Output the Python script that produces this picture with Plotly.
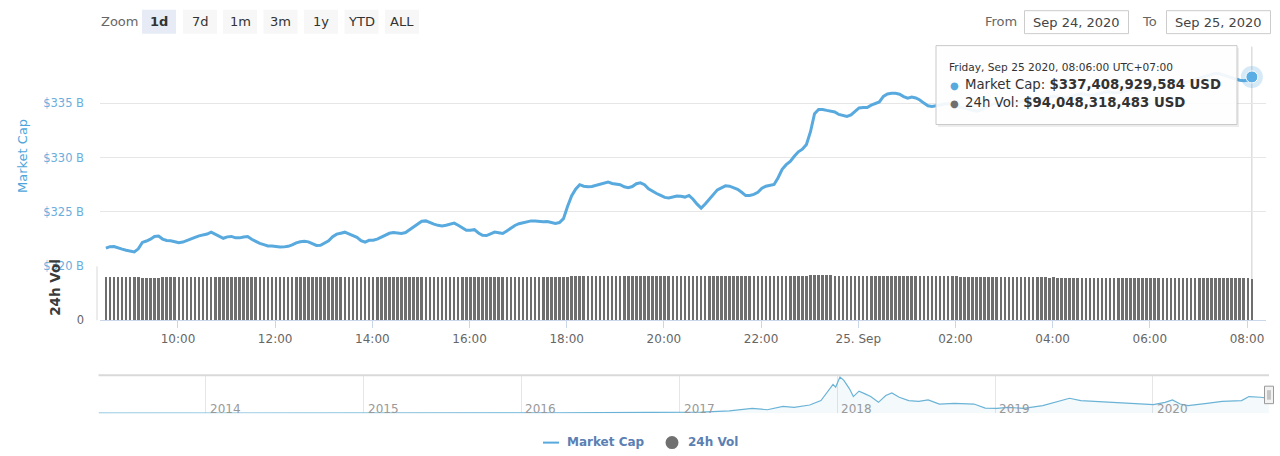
import pandas as pd
import plotly.graph_objects as go

# ---------------- data ----------------
# Market cap (billions USD), 5-minute points from Sep 24 2020 08:31 to Sep 25 2020 08:06 (UTC+7)
market_cap = [
    321.66, 321.80, 321.81, 321.67, 321.57, 321.47, 321.37, 321.32, 321.60, 322.19,
    322.32, 322.49, 322.74, 322.78, 322.50, 322.37, 322.35, 322.25, 322.16, 322.22,
    322.34, 322.49, 322.65, 322.79, 322.85, 322.96, 323.13, 322.94, 322.74, 322.57,
    322.70, 322.74, 322.61, 322.61, 322.69, 322.73, 322.48, 322.26, 322.10, 321.99,
    321.87, 321.85, 321.80, 321.76, 321.78, 321.83, 321.96, 322.15, 322.25, 322.30,
    322.24, 322.11, 321.91, 321.92, 322.10, 322.34, 322.71, 322.95, 323.04, 323.13,
    322.98, 322.80, 322.65, 322.35, 322.21, 322.38, 322.39, 322.49, 322.67, 322.85,
    323.03,
    323.10, 323.04, 323.02, 323.10, 323.35, 323.64, 323.88, 324.13, 324.17,
    323.99, 323.87, 323.76, 323.71, 323.77, 323.89, 323.97, 323.77, 323.54, 323.30,
    323.31, 323.36, 323.06, 322.85, 322.82, 322.97, 323.14, 323.08, 323.01, 323.24,
    323.52, 323.75, 323.91, 324.01, 324.11, 324.17, 324.16, 324.09, 324.09, 324.12,
    324.03, 323.93, 324.02, 324.38, 325.49, 326.47, 327.08, 327.50, 327.36, 327.30,
    327.34, 327.43, 327.56, 327.66, 327.75, 327.61, 327.55, 327.50, 327.31, 327.23,
    327.33, 327.59, 327.67, 327.50, 327.12, 326.87, 326.69, 326.51, 326.33, 326.28,
    326.36, 326.45, 326.44, 326.36, 326.51, 326.16, 325.71, 325.35, 325.72, 326.18,
    326.62, 327.02, 327.21, 327.39, 327.36, 327.24, 327.07, 326.80, 326.50, 326.51,
    326.61, 326.80, 327.17, 327.36, 327.45, 327.52, 328.14, 328.92, 329.34, 329.63,
    330.11, 330.52, 330.76, 331.20, 332.37, 334.03, 334.42, 334.42, 334.33, 334.29,
    334.19, 333.96, 333.85, 333.77, 333.91, 334.22, 334.56, 334.59, 334.60, 334.81,
    334.94, 335.11, 335.62, 335.84, 335.90, 335.90, 335.82, 335.60, 335.46, 335.55,
    335.47, 335.29, 335.00, 334.75, 334.69, 334.74,
    334.82, 334.91, 334.95, 334.86,
    334.72, 334.63, 334.54, 334.45, 334.36, 334.26, 334.36, 334.54, 334.72, 334.91,
    335.00, 335.08, 335.15, 335.10, 335.02, 335.05, 335.18, 335.30, 335.38, 335.33,
    335.25, 335.31, 335.44, 335.56, 335.62, 335.58, 335.50, 335.47, 335.55, 335.68,
    335.80, 335.86, 335.79, 335.70, 335.74, 335.85, 335.97, 336.05, 336.02, 335.94,
    335.98, 336.10, 336.22, 336.30, 336.26, 336.18, 336.24, 336.38, 336.52, 336.60,
    336.56, 336.62, 336.75, 336.88, 336.95, 336.90, 336.84, 336.92, 337.06, 337.20,
    337.32, 337.40, 337.52, 337.65, 337.74, 337.70, 337.58, 337.45, 337.30, 337.18,
    337.10, 337.05, 337.12, 337.408929584,
]

# 24h volume (billions USD), same timestamps
volume_24h = [
    98.9, 98.8, 98.9, 98.7, 98.8, 98.9, 98.8, 98.6, 98.7, 97.2,
    96.6, 96.5, 96.4, 96.6, 97.8, 98.5, 98.6, 98.5, 98.4, 98.5,
    98.6, 98.5, 98.4, 98.5, 98.6, 98.7, 98.5, 98.4, 98.5, 98.6,
    98.5, 98.4, 98.3, 98.4, 98.5, 98.6, 98.5, 98.4, 98.3, 98.4,
    98.5, 98.6, 98.5, 98.4, 98.5, 98.6, 98.7, 98.6, 98.5, 98.4,
    98.5, 98.4, 98.3, 98.4, 98.5, 98.6, 98.7, 98.8, 98.7, 98.6,
    98.5, 98.4, 98.3, 98.2, 98.3, 98.4, 98.5, 98.6, 98.5, 98.4,
    98.5, 98.6, 98.7, 98.8, 98.7, 98.6, 98.7, 98.8, 98.9, 98.8,
    98.7, 98.8, 98.9, 98.8, 98.7, 98.6, 98.7, 98.8, 98.7, 98.6,
    98.5, 98.6, 98.7, 98.6, 98.5, 98.6, 98.7, 98.8, 98.7, 98.6,
    98.7, 98.8, 98.9, 98.8, 98.7, 98.8, 98.9, 99.0, 98.9, 98.8,
    98.9, 99.0, 99.1, 99.3, 99.8, 100.3, 100.6, 100.8, 100.7, 100.6,
    100.7, 100.8, 100.9, 100.8, 100.7, 100.8, 100.9, 101.0, 100.9, 100.8,
    100.7, 100.8, 100.9, 100.8, 100.7, 100.6, 100.7, 100.8, 100.7, 100.6,
    100.5, 100.6, 100.7, 100.6, 100.5, 100.4, 100.3, 100.4, 100.5, 100.6,
    100.7, 100.8, 100.9, 100.8, 100.7, 100.6, 100.7, 100.8, 100.7, 100.6,
    100.7, 100.8, 100.9, 101.0, 101.1, 101.2, 101.3, 101.4, 101.5, 101.6,
    101.7, 101.8, 101.9, 102.0, 102.2, 102.4, 102.5, 102.4, 102.3, 102.2,
    102.1, 102.0, 101.9, 101.8, 101.7, 101.6, 101.7, 101.8, 101.7, 101.6,
    101.5, 101.4, 101.3, 101.2, 101.3, 101.4, 101.3, 101.2, 101.1, 101.0,
    100.9, 100.7, 100.8, 100.5, 100.6, 100.3, 100.4, 100.1, 100.2, 99.9,
    99.9, 99.7, 99.8, 99.5, 99.6, 99.3, 99.4, 99.1, 99.2, 98.9,
    98.9, 98.7, 98.8, 98.5, 98.6, 98.3, 98.4, 98.1, 98.2, 97.9,
    97.9, 97.7, 97.8, 97.5, 97.6, 97.3, 97.4, 97.1, 97.2, 96.9,
    96.9, 96.7, 96.8, 96.5, 96.6, 96.4, 96.5, 96.6, 96.5, 96.4,
    96.3, 96.4, 96.5, 96.4, 96.3, 96.4, 96.5, 96.6, 96.5, 96.4,
    96.3, 96.4, 96.5, 96.6, 96.5, 96.4, 96.3, 96.4, 96.5, 96.4,
    96.3, 96.2, 96.3, 96.4, 96.5, 96.4, 96.3, 96.2, 96.3, 96.4,
    96.3, 96.2, 96.1, 94.048318483,
]

series_start = "2020-09-24 08:31:00"
series_step = "5min"

last_market_cap_usd = 337408929584
last_volume_usd = 94048318483
tooltip_date = "Friday, Sep 25 2020, 08:06:00 UTC+07:00"

x_tick_values = ["2020-09-24 10:00", "2020-09-24 12:00", "2020-09-24 14:00", "2020-09-24 16:00",
                 "2020-09-24 18:00", "2020-09-24 20:00", "2020-09-24 22:00", "2020-09-25 00:00",
                 "2020-09-25 02:00", "2020-09-25 04:00", "2020-09-25 06:00", "2020-09-25 08:00"]
x_tick_labels = ["10:00", "12:00", "14:00", "16:00", "18:00", "20:00", "22:00", "25. Sep",
                 "02:00", "04:00", "06:00", "08:00"]
mc_tick_values = [320, 325, 330, 335, 340]
mc_tick_labels = ["$320 B", "$325 B", "$330 B", "$335 B", ""]

# Navigator: all-time market cap history (billions USD)
nav_dates = [
    "2013-04-28", "2013-07-01", "2013-10-01", "2013-12-01", "2014-01-01", "2014-04-01",
    "2014-07-01", "2014-10-01", "2015-01-01", "2015-04-01", "2015-07-01", "2015-10-01",
    "2016-01-01", "2016-04-01", "2016-07-01", "2016-10-01", "2017-01-01", "2017-02-20",
    "2017-04-26", "2017-06-18", "2017-07-23", "2017-08-28", "2017-09-23", "2017-10-29",
    "2017-11-24", "2017-12-16", "2017-12-22", "2017-12-28", "2018-01-07", "2018-01-16",
    "2018-01-29", "2018-02-07", "2018-02-20", "2018-03-06", "2018-03-19", "2018-04-06",
    "2018-04-23", "2018-05-07", "2018-05-24", "2018-06-15", "2018-07-08", "2018-07-30",
    "2018-08-25", "2018-09-29", "2018-11-13", "2018-12-09", "2019-01-05", "2019-01-31",
    "2019-03-08", "2019-04-21", "2019-05-17", "2019-06-22", "2019-07-18", "2019-08-14",
    "2019-09-09", "2019-10-15", "2019-11-28", "2020-01-02", "2020-01-29", "2020-02-15",
    "2020-03-04", "2020-03-22", "2020-05-05", "2020-06-09", "2020-07-24", "2020-08-10",
    "2020-09-06", "2020-09-25",
]
nav_values = [
    1.6, 1.2, 1.9, 13.0, 10.5, 6.5,
    8.5, 5.0, 4.5, 3.5, 4.4, 4.2,
    6.9, 7.3, 10.5, 10.3, 17.7, 22.0,
    54, 109, 78, 155, 132, 186,
    287, 558, 659, 597, 830, 752,
    558, 380, 504, 442, 380, 248,
    403, 465, 365, 287, 271, 303,
    209, 225, 209, 116, 109, 132,
    109, 171, 248, 341, 287, 271,
    248, 225, 209, 194, 248, 303,
    209, 171, 225, 271, 287, 380,
    365, 337,
]
nav_years = ["2014", "2015", "2016", "2017", "2018", "2019", "2020"]

zoom_buttons = ["1d", "7d", "1m", "3m", "1y", "YTD", "ALL"]
from_date_text = "Sep 24, 2020"
to_date_text = "Sep 25, 2020"

# ---------------- layout helpers ----------------
W, H = 1280, 456
FONT = "DejaVu Sans"
LINE_COLOR = "#58a9de"


def X(p):
    return p / W


def Y(p):
    # vertical pixel position -> paper fraction (calibrated to the rendered page)
    return 1 - (p + 0.7) / 449.6


times = pd.date_range(series_start, periods=len(market_cap), freq=series_step)

fig = go.Figure()

# volume bars
fig.add_trace(go.Bar(
    x=times, y=volume_24h, xaxis="x", yaxis="y2",
    marker=dict(color="#6e6e6e", line=dict(width=0)),
    width=190000, showlegend=False, hoverinfo="skip",
))

# market cap line
fig.add_trace(go.Scatter(
    x=times, y=market_cap, xaxis="x", yaxis="y", mode="lines",
    line=dict(color=LINE_COLOR, width=3), showlegend=False, hoverinfo="skip",
))

# hover marker (halo + dot) on last point
fig.add_trace(go.Scatter(
    x=[times[-1]], y=[market_cap[-1]], xaxis="x", yaxis="y", mode="markers",
    marker=dict(size=22, color="rgba(88,169,222,0.25)"), showlegend=False, hoverinfo="skip",
))
fig.add_trace(go.Scatter(
    x=[times[-1]], y=[market_cap[-1]], xaxis="x", yaxis="y", mode="markers",
    marker=dict(size=12, color="#5aaee3", line=dict(color="white", width=1)),
    showlegend=False, hoverinfo="skip",
))

# navigator
fig.add_trace(go.Scatter(
    x=pd.to_datetime(nav_dates), y=nav_values, xaxis="x3", yaxis="y3", mode="lines",
    line=dict(color="#6ab3d6", width=1.2), fill="tozeroy",
    fillcolor="rgba(106,179,214,0.07)", showlegend=False, hoverinfo="skip",
))

shapes = []
annotations = []

# crosshair
shapes.append(dict(type="line", xref="x", yref="paper", x0=times[-1], x1=times[-1],
                   y0=Y(46), y1=Y(320), line=dict(color="#cccccc", width=1), layer="below"))

# tooltip
shapes.append(dict(type="rect", xref="paper", yref="paper", x0=X(938), x1=X(1239), y0=Y(47), y1=Y(126.5),
                   fillcolor="rgba(0,0,0,0.07)", line=dict(width=0), layer="above"))
shapes.append(dict(type="rect", xref="paper", yref="paper", x0=X(936), x1=X(1237), y0=Y(45), y1=Y(124),
                   fillcolor="rgba(255,255,255,0.92)", line=dict(color="#c9c9c9", width=1), layer="above"))
annotations.append(dict(xref="paper", yref="paper", x=X(947), y=Y(66.5), text=tooltip_date,
                        showarrow=False, xanchor="left", yanchor="middle",
                        font=dict(family=FONT, size=10.6, color="#333333")))
annotations.append(dict(xref="paper", yref="paper", x=X(948), y=Y(84.5), text="●",
                        showarrow=False, xanchor="left", yanchor="middle",
                        font=dict(family=FONT, size=10, color=LINE_COLOR)))
annotations.append(dict(xref="paper", yref="paper", x=X(963), y=Y(84),
                        text=f"Market Cap: <b>${last_market_cap_usd:,} USD</b>",
                        showarrow=False, xanchor="left", yanchor="middle",
                        font=dict(family=FONT, size=13.3, color="#333333")))
annotations.append(dict(xref="paper", yref="paper", x=X(948), y=Y(102.5), text="●",
                        showarrow=False, xanchor="left", yanchor="middle",
                        font=dict(family=FONT, size=10, color="#707070")))
annotations.append(dict(xref="paper", yref="paper", x=X(963), y=Y(102),
                        text=f"24h Vol: <b>${last_volume_usd:,} USD</b>",
                        showarrow=False, xanchor="left", yanchor="middle",
                        font=dict(family=FONT, size=13.3, color="#333333")))

# axis titles
annotations.append(dict(xref="paper", yref="paper", x=X(23), y=Y(155.5), text="Market Cap",
                        textangle=-90, showarrow=False, xanchor="center", yanchor="middle",
                        font=dict(family=FONT, size=13, color="#4ea5dc")))
annotations.append(dict(xref="paper", yref="paper", x=X(55.5), y=Y(287), text="<b>24h Vol</b>",
                        textangle=-90, showarrow=False, xanchor="center", yanchor="middle",
                        font=dict(family=FONT, size=13.5, color="#3a3a3a")))

# volume panel left border
shapes.append(dict(type="line", xref="paper", yref="paper", x0=X(97), x1=X(97), y0=Y(266), y1=Y(320),
                   line=dict(color="#d8d8d8", width=1), layer="below"))

# navigator border + handle
shapes.append(dict(type="line", xref="paper", yref="paper", x0=X(98.5), x1=X(1269), y0=Y(375), y1=Y(375),
                   line=dict(color="#d9d9d9", width=2), layer="above"))
shapes.append(dict(type="rect", xref="paper", yref="paper", x0=X(1264.5), x1=X(1273.5), y0=Y(386), y1=Y(403.5),
                   fillcolor="#f2f2f2", line=dict(color="#999999", width=1), layer="above"))
for hx in (1268, 1270):
    shapes.append(dict(type="line", xref="paper", yref="paper", x0=X(hx), x1=X(hx), y0=Y(390), y1=Y(399.5),
                       line=dict(color="#999999", width=1), layer="above"))
for yr in nav_years:
    annotations.append(dict(xref="x3", yref="paper", x=f"{yr}-01-01", y=Y(409), text=yr,
                            showarrow=False, xanchor="left", yanchor="middle", xshift=2,
                            font=dict(family=FONT, size=12, color="#999999")))

# zoom buttons
annotations.append(dict(xref="paper", yref="paper", x=X(99), y=Y(21), text="Zoom", showarrow=False,
                        xanchor="left", yanchor="middle", font=dict(family=FONT, size=13, color="#666666")))
btn_x = [142, 183, 223, 263.5, 304, 344.5, 385]
for lbl, bx in zip(zoom_buttons, btn_x):
    sel = lbl == "1d"
    shapes.append(dict(type="rect", xref="paper", yref="paper", x0=X(bx), x1=X(bx + 34), y0=Y(9), y1=Y(33),
                       fillcolor="#e6ebf5" if sel else "#f7f7f7", line=dict(width=0), layer="above"))
    annotations.append(dict(xref="paper", yref="paper", x=X(bx + 17), y=Y(21),
                            text=f"<b>{lbl}</b>" if sel else lbl, showarrow=False,
                            xanchor="center", yanchor="middle",
                            font=dict(family=FONT, size=13, color="#333333")))

# date inputs
annotations.append(dict(xref="paper", yref="paper", x=X(983), y=Y(21), text="From", showarrow=False,
                        xanchor="left", yanchor="middle", font=dict(family=FONT, size=13, color="#666666")))
annotations.append(dict(xref="paper", yref="paper", x=X(1140), y=Y(21), text="To", showarrow=False,
                        xanchor="left", yanchor="middle", font=dict(family=FONT, size=13, color="#666666")))
for (bx0, bx1, txt) in ((1024.5, 1128.5, from_date_text), (1166.5, 1270.5, to_date_text)):
    shapes.append(dict(type="rect", xref="paper", yref="paper", x0=X(bx0), x1=X(bx1), y0=Y(10), y1=Y(33),
                       fillcolor="white", line=dict(color="#cccccc", width=1), layer="above"))
    annotations.append(dict(xref="paper", yref="paper", x=X((bx0 + bx1) / 2), y=Y(21.5), text=txt,
                            showarrow=False, xanchor="center", yanchor="middle",
                            font=dict(family=FONT, size=13, color="#444444")))

# legend
shapes.append(dict(type="line", xref="paper", yref="paper", x0=X(543), x1=X(559), y0=Y(442.5), y1=Y(442.5),
                   line=dict(color=LINE_COLOR, width=2), layer="above"))
annotations.append(dict(xref="paper", yref="paper", x=X(565), y=Y(442), text="<b>Market Cap</b>",
                        showarrow=False, xanchor="left", yanchor="middle",
                        font=dict(family=FONT, size=12, color="#5a80b4")))
shapes.append(dict(type="circle", xref="paper", yref="paper", x0=X(665.5), x1=X(678.5), y0=Y(436), y1=Y(449),
                   fillcolor="#707070", line=dict(width=0), layer="above"))
annotations.append(dict(xref="paper", yref="paper", x=X(686), y=Y(442), text="<b>24h Vol</b>",
                        showarrow=False, xanchor="left", yanchor="middle",
                        font=dict(family=FONT, size=12, color="#5a80b4")))

fig.update_layout(
    width=W, height=H,
    margin=dict(l=0, r=0, t=0, b=0),
    paper_bgcolor="white", plot_bgcolor="white",
    font=dict(family=FONT),
    showlegend=False, hovermode=False, bargap=0,
    shapes=shapes, annotations=annotations,
    xaxis=dict(
        domain=[X(100), X(1266)], anchor="y2",
        range=["2020-09-24 08:23:42", "2020-09-25 08:23:27"],
        tickmode="array", tickvals=x_tick_values, ticktext=x_tick_labels,
        ticks="outside", ticklen=7, tickcolor="#ccd6eb", tickwidth=1,
        showline=True, linecolor="#ccd6eb", linewidth=1,
        showgrid=False, zeroline=False,
        tickfont=dict(family=FONT, size=12, color="#666666"),
    ),
    yaxis=dict(
        domain=[Y(266), Y(48)], anchor="x",
        range=[319.99, 340.01],
        tickmode="array", tickvals=mc_tick_values, ticktext=mc_tick_labels,
        showgrid=True, gridcolor="#e6e6e6", gridwidth=1, zeroline=False,
        showline=False, ticks="", ticklabelstandoff=15,
        tickfont=dict(family=FONT, size=11.5, color="#6aaedd"),
    ),
    yaxis2=dict(
        domain=[Y(320), Y(266)], anchor="x",
        range=[0, 124],
        tickmode="array", tickvals=[0], ticktext=["0"],
        showgrid=False, zeroline=False, showline=False, ticks="", ticklabelstandoff=15,
        tickfont=dict(family=FONT, size=11.5, color="#666666"),
    ),
    xaxis3=dict(
        domain=[X(98.5), X(1269)], anchor="y3",
        range=["2013-04-28", "2020-09-25 08:06"],
        showgrid=True, gridcolor="#e6e6e6", tick0="2014-01-01", dtick="M12",
        showticklabels=False, ticks="", zeroline=False, showline=False,
    ),
    yaxis3=dict(
        domain=[Y(413), Y(375)], anchor="x3",
        range=[0, 870], visible=False, showgrid=False,
    ),
)

fig.write_html("out.html")
